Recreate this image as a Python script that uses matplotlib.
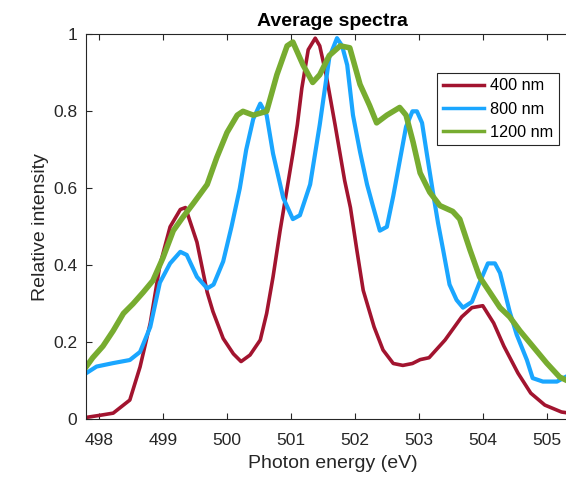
"""
Average spectra for three wavelengths, drawn in MATLAB-like style.
"""
import matplotlib
matplotlib.use('Agg')
import matplotlib.pyplot as plt
from matplotlib.ticker import FuncFormatter

# Photon energy (eV) and relative intensity
E_400 = [497.8, 498.0, 498.22, 498.48, 498.64, 498.8, 498.95, 499.11, 499.27, 499.35,
         499.53, 499.69, 499.78, 499.94, 500.1, 500.22, 500.36, 500.52, 500.62, 500.72,
         500.83, 500.92, 501.03, 501.1, 501.17, 501.27, 501.38, 501.45, 501.55, 501.69,
         501.84, 501.93, 502.03, 502.13, 502.3, 502.44, 502.6, 502.75, 502.9, 503.02,
         503.16, 503.41, 503.67, 503.83, 504.0, 504.17, 504.33, 504.55, 504.75, 504.97,
         505.23, 505.35, 505.55]
I_400 = [0.005, 0.01, 0.016, 0.05, 0.136, 0.25, 0.40, 0.50, 0.545, 0.55,
         0.46, 0.33, 0.28, 0.21, 0.17, 0.15, 0.167, 0.206, 0.275, 0.37,
         0.49, 0.58, 0.69, 0.765, 0.86, 0.96, 0.99, 0.97, 0.895, 0.765,
         0.62, 0.55, 0.44, 0.335, 0.24, 0.18, 0.145, 0.14, 0.145, 0.155,
         0.16, 0.206, 0.266, 0.29, 0.295, 0.25, 0.19, 0.12, 0.068, 0.037,
         0.019, 0.016, 0.014]

E_800 = [497.8, 497.96, 498.22, 498.48, 498.64, 498.8, 498.95, 499.11, 499.27, 499.37,
         499.53, 499.69, 499.79, 499.94, 500.07, 500.2, 500.3, 500.41, 500.52, 500.62,
         500.72, 500.88, 501.03, 501.14, 501.3, 501.45, 501.6, 501.72, 501.8, 501.88,
         501.97, 502.08, 502.19, 502.28, 502.39, 502.5, 502.6, 502.7, 502.8, 502.9,
         502.97, 503.05, 503.12, 503.22, 503.3, 503.38, 503.48, 503.59, 503.69, 503.83,
         503.95, 504.08, 504.19, 504.27, 504.42, 504.53, 504.69, 504.78, 504.94, 505.16,
         505.35, 505.55]
I_800 = [0.12, 0.137, 0.146, 0.154, 0.175, 0.24, 0.355, 0.405, 0.435, 0.427,
         0.37, 0.34, 0.35, 0.41, 0.50, 0.60, 0.70, 0.78, 0.82, 0.79,
         0.69, 0.575, 0.52, 0.53, 0.61, 0.765, 0.94, 0.99, 0.97, 0.92,
         0.79, 0.695, 0.61, 0.555, 0.49, 0.50, 0.58, 0.67, 0.76, 0.80,
         0.80, 0.77, 0.695, 0.59, 0.51, 0.44, 0.35, 0.31, 0.29, 0.305,
         0.355, 0.405, 0.405, 0.38, 0.28, 0.22, 0.154, 0.107, 0.098, 0.098,
         0.115, 0.115]

E_1200 = [497.8, 497.9, 498.06, 498.22, 498.38, 498.53, 498.69, 498.84, 499.0, 499.16,
          499.31, 499.47, 499.69, 499.84, 500.0, 500.16, 500.25, 500.41, 500.62, 500.78,
          500.94, 501.03, 501.19, 501.34, 501.45, 501.6, 501.77, 501.92, 502.08, 502.23,
          502.34, 502.5, 502.7, 502.8, 502.91, 503.02, 503.17, 503.33, 503.53, 503.64,
          503.8, 503.95, 504.11, 504.27, 504.42, 504.58, 504.78, 505.0, 505.2, 505.35,
          505.55]
I_1200 = [0.137, 0.16, 0.19, 0.23, 0.275, 0.30, 0.33, 0.36, 0.42, 0.49,
          0.525, 0.56, 0.61, 0.68, 0.745, 0.79, 0.80, 0.79, 0.80, 0.895,
          0.97, 0.98, 0.92, 0.875, 0.895, 0.945, 0.97, 0.965, 0.87, 0.815,
          0.77, 0.79, 0.81, 0.79, 0.72, 0.64, 0.59, 0.555, 0.54, 0.52,
          0.44, 0.37, 0.33, 0.29, 0.266, 0.23, 0.19, 0.146, 0.11, 0.098,
          0.09]

LABELS = ['400 nm', '800 nm', '1200 nm']
COLORS = ['#A2142F', '#1AA6FF', '#77AC30']

TEXT = '#262626'
plt.rcParams['font.family'] = ['Liberation Sans', 'DejaVu Sans']

fig = plt.figure(figsize=(5.66, 4.78), dpi=100)
# the axes run past the right edge of the picture, as in the cropped original
ax = fig.add_axes([0.1514, 0.1228, 0.8733, 0.8054])

ax.plot(E_400, I_400, color=COLORS[0], lw=2.6, label=LABELS[0])
ax.plot(E_800, I_800, color=COLORS[1], lw=3.0, label=LABELS[1])
ax.plot(E_1200, I_1200, color=COLORS[2], lw=4.0, label=LABELS[2])

ax.set_xlim(497.79, 505.52)
ax.set_ylim(0, 1)
ax.set_xticks(range(498, 506))
ax.set_yticks([0, 0.2, 0.4, 0.6, 0.8, 1.0])
ax.yaxis.set_major_formatter(FuncFormatter(lambda v, p: f"{v:g}"))

ax.spines['right'].set_visible(False)
for s in ['left', 'top', 'bottom']:
    ax.spines[s].set_color(TEXT)
    ax.spines[s].set_linewidth(0.8)
ax.tick_params(direction='in', top=True, length=4, width=0.8,
               colors=TEXT, labelsize=12.5)
ax.tick_params(axis='x', pad=10)
ax.tick_params(axis='y', pad=6)

ax.set_title('Average spectra', fontsize=14, fontweight='bold', color='black', pad=6)
ax.set_xlabel('Photon energy (eV)', fontsize=14, color=TEXT, labelpad=5)
ax.set_ylabel('Relative intensity', fontsize=14, color=TEXT, labelpad=3)

leg = ax.legend(loc='upper right', bbox_to_anchor=(0.9575, 0.9003), fontsize=11.7,
                fancybox=False, framealpha=1, edgecolor=TEXT,
                handlelength=2.5, handletextpad=0.4, borderpad=0.35,
                labelspacing=0.5, borderaxespad=0)
leg.get_frame().set_linewidth(0.8)
for line in leg.get_lines():
    line.set_linewidth(2.5)

fig.savefig('out.png', dpi=100)
plt.close(fig)
